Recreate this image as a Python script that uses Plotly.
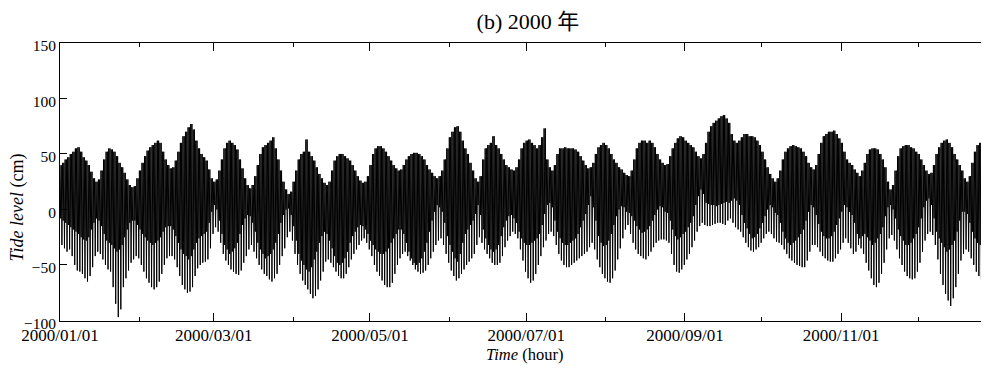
import pandas as pd
import plotly.graph_objects as go

# Daily tide extremes (cm), day 0 = 2000/01/01
high_water = [
    40, 42, 45, 47, 50, 52, 55, 56, 52, 47,
    44, 40, 34, 28, 25, 27, 35, 45, 52, 55,
    54, 52, 48, 42, 38, 33, 27, 22, 20, 21,
    28, 35, 42, 48, 53, 56, 58, 60, 62, 60,
    52, 45, 40, 37, 38, 44, 52, 60, 66, 70,
    74, 77, 72, 62, 55, 50, 47, 44, 36, 28,
    25, 27, 35, 45, 55, 60, 62, 60, 58, 54,
    45, 37, 28, 22, 19, 22, 30, 40, 50, 56,
    58, 60, 62, 65, 55, 45, 35, 25, 18, 14,
    16, 25, 35, 45, 50, 52, 63, 52, 48, 44,
    38, 32, 28, 24, 22, 25, 35, 44, 48, 50,
    50, 48, 46, 44, 40, 35, 30, 26, 24, 25,
    30, 40, 50, 55, 57, 57, 55, 52, 48, 44,
    40, 37, 35, 36, 40, 45, 48, 50, 51, 51,
    50, 48, 45, 40, 36, 33, 30, 28, 30, 35,
    45, 55, 65, 70, 74, 75, 70, 62, 55, 50,
    42, 35, 28, 25, 30, 45, 55, 58, 60, 66,
    58, 55, 50, 45, 40, 38, 36, 35, 38, 45,
    55, 60, 62, 63, 60, 58, 55, 58, 65, 73,
    45, 38, 35, 40, 50, 55, 55, 56, 55, 55,
    55, 54, 52, 48, 44, 40, 37, 38, 42, 50,
    56, 58, 60, 58, 55, 50, 45, 42, 38, 36,
    33, 31, 30, 35, 45, 55, 60, 62, 62, 60,
    62, 60, 56, 50, 45, 42, 40, 41, 48, 55,
    60, 64, 66, 65, 62, 60, 58, 56, 52, 48,
    46, 50, 60, 70, 75, 78, 80, 82, 84, 85,
    82, 78, 68, 62, 60, 62, 65, 68, 68, 66,
    66, 65, 62, 58, 52, 45, 38, 32, 28, 25,
    28, 35, 45, 52, 55, 57, 58, 57, 56, 55,
    52, 48, 42, 38, 36, 40, 50, 60, 66, 68,
    70, 70, 71, 68, 64, 60, 52, 45, 42, 40,
    36, 33, 30, 35, 42, 50, 54, 55, 55, 54,
    50, 45, 38, 25, 18, 22, 35, 48, 55, 57,
    58, 58, 56, 55, 52, 50, 45, 40, 35, 32,
    33, 40, 50, 56, 60, 62, 63, 60, 56, 50,
    45, 40, 35, 28, 25, 30, 42, 52, 58, 60,
    58, 56, 52, 48,
]

higher_low = [
    -8, -10, -12, -14, -16, -18, -20, -22, -25, -27,
    -28, -25, -18, -12, -8, -10, -15, -22, -28, -30,
    -32, -35, -38, -36, -32, -25, -18, -12, -10, -10,
    -14, -18, -22, -25, -28, -30, -32, -30, -28, -25,
    -20, -16, -15, -15, -18, -24, -30, -36, -40, -42,
    -45, -42, -36, -30, -26, -24, -22, -20, -12, -2,
    4, 0, -10, -22, -32, -36, -40, -38, -35, -30,
    -22, -14, -8, -5, -6, -12, -20, -30, -36, -40,
    -44, -42, -40, -36, -30, -22, -12, -5, 0, 1,
    -5, -15, -28, -40, -46, -50, -54, -56, -52, -45,
    -38, -30, -24, -20, -22, -28, -35, -42, -48, -50,
    -48, -44, -38, -30, -24, -20, -16, -14, -15, -18,
    -22, -28, -32, -36, -38, -40, -40, -38, -35, -30,
    -26, -22, -18, -18, -22, -30, -38, -44, -48, -50,
    -48, -44, -38, -30, -20, -10, -2, 4, 2, -2,
    -12, -24, -32, -38, -44, -47, -40, -30, -22, -18,
    -14, -10, -4, 4, -5, -18, -26, -32, -36, -38,
    -36, -32, -24, -16, -10, -6, -5, -8, -12, -20,
    -26, -30, -32, -32, -30, -28, -26, -22, -14, -4,
    4, 6, 2, -10, -20, -26, -30, -32, -32, -30,
    -28, -26, -22, -16, -10, -4, 4, 12, 2, -10,
    -24, -30, -33, -32, -28, -22, -14, -6, 0, 3,
    2, -2, -3, -6, -10, -15, -18, -21, -20, -18,
    -15, -10, -5, 0, 3, 2, -2, -3, -10, -18,
    -24, -27, -25, -22, -20, -16, -12, -6, 4, 12,
    18, 14, 6, 5, 4, 4, 3, 4, 5, 6,
    7, 6, 8, 10, 8, 4, -5, -12, -17, -22,
    -26, -25, -22, -17, -12, -6, 0, 4, 2, -3,
    -5, -12, -20, -26, -30, -32, -30, -28, -25, -22,
    -18, -10, -2, 4, 2, -5, -13, -20, -24, -26,
    -26, -24, -20, -14, -8, -2, 4, 2, -2, -5,
    -12, -22, -26, -24, -22, -25, -28, -32, -30, -26,
    -22, -16, -6, 2, 4, 0, -8, -18, -24, -28,
    -32, -32, -30, -26, -22, -16, -8, 2, 8, 10,
    4, -8, -20, -26, -30, -34, -38, -36, -32, -28,
    -20, -10, -2, -2, -4, -12, -20, -26, -30, -32,
    -32, -28, -24, -20,
]

lower_low = [
    -32, -35, -38, -36, -42, -50, -55, -56, -58, -62,
    -65, -60, -52, -42, -38, -40, -45, -50, -54, -56,
    -70, -85, -97, -90, -70, -62, -55, -48, -45, -42,
    -44, -50, -56, -62, -66, -70, -72, -70, -65, -58,
    -50, -44, -42, -42, -45, -52, -60, -68, -72, -75,
    -74, -70, -60, -53, -50, -48, -47, -45, -35, -22,
    -16, -20, -30, -40, -46, -50, -54, -56, -58, -59,
    -55, -48, -42, -36, -32, -38, -44, -50, -54, -58,
    -60, -63, -65, -62, -58, -50, -42, -35, -25, -20,
    -28, -40, -50, -58, -64, -68, -72, -76, -80, -78,
    -72, -64, -56, -47, -45, -48, -52, -56, -60, -62,
    -62, -58, -52, -45, -40, -36, -32, -28, -26, -30,
    -36, -42, -50, -56, -60, -64, -68, -70, -70, -66,
    -58, -50, -44, -40, -38, -42, -46, -50, -54, -56,
    -58, -57, -55, -50, -44, -38, -32, -28, -26, -32,
    -40, -48, -55, -60, -64, -62, -58, -54, -50, -47,
    -44, -40, -32, -25, -30, -36, -40, -44, -48, -50,
    -50, -48, -42, -34, -28, -24, -20, -22, -26, -36,
    -46, -56, -62, -66, -64, -58, -50, -42, -34, -28,
    -22, -20, -24, -32, -40, -46, -50, -52, -52, -50,
    -48, -46, -44, -42, -40, -38, -34, -30, -36, -45,
    -52, -58, -62, -65, -66, -62, -55, -45, -35, -26,
    -18, -14, -22, -30, -36, -40, -42, -44, -45, -42,
    -38, -34, -30, -28, -27, -27, -28, -30, -40, -50,
    -56, -57, -54, -50, -45, -40, -34, -28, -20, -15,
    -12, -14, -15, -15, -14, -13, -12, -12, -13, -14,
    -10, -8, -12, -16, -18, -20, -25, -30, -34, -37,
    -38, -36, -34, -30, -26, -22, -20, -22, -26, -29,
    -30, -32, -36, -40, -44, -46, -48, -50, -51, -52,
    -52, -46, -38, -32, -32, -34, -38, -42, -44, -46,
    -47, -47, -44, -40, -36, -30, -26, -30, -35, -40,
    -38, -32, -35, -40, -48, -55, -62, -68, -70, -66,
    -58, -48, -36, -26, -23, -28, -36, -44, -50, -56,
    -60, -62, -63, -62, -56, -48, -38, -28, -22, -20,
    -23, -32, -45, -58, -68, -76, -82, -87, -80, -70,
    -58, -46, -40, -36, -38, -44, -50, -56, -60, -63,
    -65, -62, -58, -52,
]

start_date = "2000-01-01"
x_end = "2000-12-28 16:48"
y_ticks = [-100, -50, 0, 50, 100, 150]
title_text = "(b) 2000 年"
y_title = "<i>Tide level</i> (cm)"
x_title = "<i>Time</i> (hour)"

# Build the tidal trace: four tide turns per day from the daily extremes
t0 = pd.Timestamp(start_date)
times, levels = [], []
for d in range(len(high_water)):
    seq = (high_water[d], higher_low[d], high_water[d], lower_low[d])
    for k, v in enumerate(seq):
        times.append(t0 + pd.Timedelta(hours=d * 24 + k * 6))
        levels.append(v)

serif = "Liberation Serif, Times New Roman, serif"

fig = go.Figure()
fig.add_trace(go.Scatter(
    x=times, y=levels, mode="lines",
    line=dict(color="black", width=1, simplify=False),
    hoverinfo="skip", showlegend=False,
))

# the page body adds an 8px margin, so the figure is 981x361
fig.update_layout(
    width=981, height=361,
    margin=dict(l=52, r=0, t=35, b=48, autoexpand=False),
    paper_bgcolor="white", plot_bgcolor="white",
    font=dict(family=serif, size=16, color="black"),
    title=dict(text=title_text, x=0.53, xanchor="center", y=0.985, yanchor="top",
               font=dict(family="Liberation Serif, Noto Sans CJK SC", size=22, color="black")),
)

fig.update_xaxes(
    type="date", range=[start_date, x_end], automargin=False,
    tick0=start_date, dtick="M2", tickformat="%Y/%m/%d",
    ticks="inside", ticklen=8, tickcolor="black", tickwidth=1,
    minor=dict(dtick="M1", ticks="inside", ticklen=4, tickcolor="black"),
    showline=True, linecolor="black", linewidth=1, mirror="ticks",
    showgrid=False, zeroline=False, ticklabelstandoff=-1,
    tickfont=dict(family=serif, size=17, color="black"),
)
fig.update_yaxes(
    range=[-100.5, 150], tickvals=y_ticks, automargin=False,
    ticks="inside", ticklen=7, tickcolor="black", tickwidth=1,
    showline=True, linecolor="black", linewidth=1, mirror="ticks",
    showgrid=False, zeroline=False, ticklabelshift=3,
    tickfont=dict(family=serif, size=15.5, color="black"),
)

fig.add_annotation(text=y_title, xref="paper", yref="y", x=-0.046, y=2,
                   textangle=-90, showarrow=False, xanchor="center", yanchor="middle",
                   font=dict(family=serif, size=18, color="black"))
fig.add_annotation(text=x_title, xref="paper", yref="paper", x=0.5, y=-0.122,
                   showarrow=False, xanchor="center", yanchor="middle",
                   font=dict(family=serif, size=16.5, color="black"))

fig.write_html("out.html")
